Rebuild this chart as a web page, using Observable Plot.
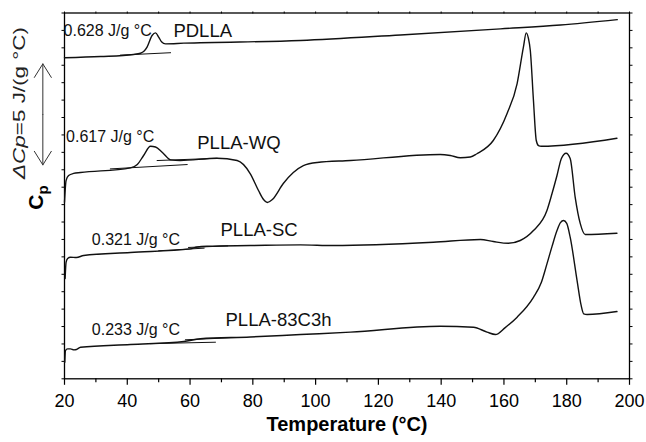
<!DOCTYPE html>
<html>
<head>
<meta charset="utf-8">
<script src="https://cdn.jsdelivr.net/npm/d3@7"></script>
<script src="https://cdn.jsdelivr.net/npm/@observablehq/plot@0.6"></script>
<style>
  body { margin: 0; background: #fff; }
  #chart svg { display: block; }
</style>
</head>
<body>
<div id="chart"></div>
<script>
// ---- Data (temperature in °C, Cp in arbitrary stacked units) ----
const pdllaT  = [20, 31.5, 42.0, 44.2, 45.3, 46.3, 47.9, 49.0, 50.0, 50.9, 52.2, 58.0, 95.2, 127.0, 158.9, 178.0, 196.1];
const pdllaCp = [18.43, 18.50, 18.62, 18.69, 18.80, 19.04, 19.71, 19.86, 19.62, 19.35, 19.23, 19.27, 19.42, 19.74, 20.09, 20.31, 20.62];

const wqT  = [20.0, 20.5, 21.3, 22.9, 25.1, 41.0, 43.2, 45.2, 47.4, 49.0, 51.2, 53.8, 56.9, 68.6, 75.0, 79.2, 81.8, 83.4, 84.6, 86.2, 89.7, 92.9, 96.1, 100.5, 111.1, 139.7, 142.9, 146.1, 149.3, 151.4, 156.6, 161.0, 164.2, 166.2, 167.1, 167.8, 168.4, 169.4, 170.3, 171.0, 171.9, 196.0];
const wqCp = [10.14, 11.38, 11.67, 11.79, 11.84, 12.11, 12.30, 12.82, 13.35, 13.31, 12.99, 12.57, 12.53, 12.66, 12.53, 11.77, 10.81, 10.29, 10.12, 10.29, 11.21, 11.84, 12.24, 12.42, 12.53, 12.88, 12.82, 12.69, 12.73, 12.92, 13.68, 15.23, 16.95, 19.04, 19.86, 19.54, 18.85, 15.98, 13.68, 13.39, 13.35, 13.81];

const scT  = [20.2, 20.5, 21.0, 21.9, 23.8, 26.1, 41.0, 60.1, 62.3, 65.4, 79.2, 95.2, 105.7, 137.5, 152.5, 156.6, 161.4, 165.2, 169.4, 173.7, 175.3, 176.9, 178.3, 179.8, 181.1, 182.7, 184.3, 185.9, 196.0];
const scCp = [5.76, 6.68, 6.91, 6.98, 6.96, 7.08, 7.25, 7.46, 7.57, 7.61, 7.65, 7.69, 7.65, 7.84, 8.00, 7.88, 7.78, 7.94, 8.51, 9.66, 10.62, 11.67, 12.65, 12.95, 12.65, 10.42, 8.92, 8.28, 8.36];

const c3hT  = [20.1, 20.3, 21.0, 21.9, 23.0, 23.8, 25.1, 41.0, 58.0, 63.3, 79.2, 95.2, 111.1, 139.7, 150.3, 154.6, 157.3, 160.4, 164.2, 169.4, 171.9, 173.7, 175.3, 176.9, 178.0, 179.0, 180.0, 181.1, 183.3, 184.6, 185.4, 186.5, 196.0];
const c3hCp = [0.95, 1.62, 1.72, 1.72, 1.66, 1.68, 1.81, 1.97, 2.14, 2.30, 2.40, 2.54, 2.68, 3.02, 2.96, 2.68, 2.54, 2.94, 3.54, 4.68, 5.53, 6.60, 7.59, 8.51, 8.97, 9.09, 8.92, 8.13, 5.64, 4.21, 3.73, 3.69, 3.86];

// Tangent (baseline-extrapolation) segments around Tg
const tangentIds = ["pdllaLow", "wqLow", "wqHigh", "scLow", "scHigh", "c3hLow", "c3hHigh"];
const tangentT1  = [37.8, 34.6, 49.5, 50.0, 59.5, 47.4, 58.5];
const tangentY1  = [18.58, 12.05, 12.53, 7.35, 7.54, 2.02, 2.24];
const tangentT2  = [53.8, 59.1, 68.6, 64.5, 72.0, 68.1, 75.0];
const tangentY2  = [18.72, 12.30, 12.66, 7.50, 7.63, 2.10, 2.37];

// Annotations
const sampleNames = ["PDLLA", "PLLA-WQ", "PLLA-SC", "PLLA-83C3h"];
const sampleX     = [54.7, 62.3, 69.7, 71.3];
const sampleY     = [19.97, 13.54, 8.54, 3.38];
const dcpLabels   = ["0.628 J/g °C", "0.617 J/g °C", "0.321 J/g °C", "0.233 J/g °C"];
const dcpX        = [19.7, 20.5, 28.7, 28.7];
const dcpY        = [19.99, 13.91, 7.97, 2.83];

// ΔCp = 5 scale arrow
const arrowX = 13.1, arrowMid = 15.18, arrowTop = 18.08, arrowBottom = 12.28;

const xTicksMajor = d3.range(20, 201, 20);
const xTicksMinor = d3.range(30, 200, 20);
const xTicksTop   = d3.range(20, 201, 10);
const yTicks      = d3.range(0, 22, 1);

// ---- Build tables ----
const rows = [
  ...pdllaT.map((t, i) => ({series: "PDLLA", T: t, Cp: pdllaCp[i]})),
  ...wqT.map((t, i) => ({series: "PLLA-WQ", T: t, Cp: wqCp[i]})),
  ...scT.map((t, i) => ({series: "PLLA-SC", T: t, Cp: scCp[i]})),
  ...c3hT.map((t, i) => ({series: "PLLA-83C3h", T: t, Cp: c3hCp[i]}))
];
const tangents = tangentIds.flatMap((id, i) => [
  {id, T: tangentT1[i], Cp: tangentY1[i]},
  {id, T: tangentT2[i], Cp: tangentY2[i]}
]);
const samples = sampleNames.map((n, i) => ({n, x: sampleX[i], y: sampleY[i]}));
const dcps = dcpLabels.map((n, i) => ({n, x: dcpX[i], y: dcpY[i]}));
const arrows = [
  {x1: arrowX, y1: arrowMid, x2: arrowX, y2: arrowTop},
  {x1: arrowX, y1: arrowMid, x2: arrowX, y2: arrowBottom}
];

const font = "'Liberation Sans', Arial, Helvetica, sans-serif";
const empty = () => "";

const chart = Plot.plot({
  width: 646,
  height: 442,
  marginLeft: 64,
  marginRight: 17,
  marginTop: 12.5,
  marginBottom: 63.7,
  style: {fontFamily: font, fontSize: "18px", background: "#fff", color: "#000"},
  x: {domain: [20, 200]},
  y: {domain: [0, 21]},
  marks: [
    Plot.axisX({anchor: "bottom", ticks: xTicksMajor, tickSize: 6.5, tickPadding: 9, fontSize: 18, label: null, strokeWidth: 1.2}),
    Plot.axisX({anchor: "bottom", ticks: xTicksMinor, tickSize: 4, tickFormat: empty, label: null, strokeWidth: 1.2}),
    Plot.axisX({anchor: "top", ticks: xTicksTop, tickSize: 2, tickFormat: empty, label: null}),
    Plot.axisY({anchor: "left", ticks: yTicks, tickSize: 2.5, tickFormat: empty, label: null}),
    Plot.axisY({anchor: "right", ticks: yTicks, tickSize: 2.5, tickFormat: empty, label: null}),
    Plot.frame({stroke: "#000", strokeWidth: 1.3}),
    Plot.line(tangents, {x: "T", y: "Cp", z: "id", stroke: "#111", strokeWidth: 1}),
    Plot.line(rows, {x: "T", y: "Cp", z: "series", curve: "monotone-x", stroke: "#111", strokeWidth: 1.4}),
    Plot.text(dcps, {x: "x", y: "y", text: "n", textAnchor: "start", fontSize: 16, fill: "#111"}),
    Plot.text(samples, {x: "x", y: "y", text: "n", textAnchor: "start", fontSize: 18.5, fill: "#111"}),
    Plot.arrow(arrows, {x1: "x1", y1: "y1", x2: "x2", y2: "y2", headLength: 24, headAngle: 64, stroke: "#333", strokeWidth: 1}),
    Plot.text(["Temperature (°C)"], {frameAnchor: "bottom", dy: 52, fontSize: 20, fontWeight: "bold", fill: "#000"})
  ]
});

document.getElementById("chart").append(chart);

// Rotated y-axis labels with rich text (subscript / italic)
const svg = d3.select(chart);
const cp = svg.append("text")
  .attr("transform", "translate(43,197.5) rotate(-90)")
  .attr("text-anchor", "middle")
  .attr("font-family", font)
  .attr("font-weight", "bold")
  .attr("font-size", 21)
  .attr("fill", "#000");
cp.append("tspan").text("C");
cp.append("tspan").attr("font-size", 15).attr("dy", 5).text("p");

const dl = svg.append("text")
  .attr("transform", "translate(25,103) rotate(-90)")
  .attr("text-anchor", "middle")
  .attr("font-family", font)
  .attr("font-size", 16)
  .attr("fill", "#222")
  .attr("textLength", 152)
  .attr("lengthAdjust", "spacingAndGlyphs");
dl.append("tspan").attr("font-style", "italic").text("ΔCp");
dl.append("tspan").text("=5 J/(g °C)");
</script>
</body>
</html>
